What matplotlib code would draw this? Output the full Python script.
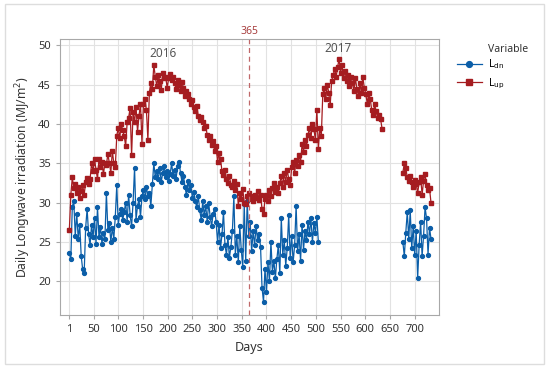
import matplotlib
matplotlib.use("Agg")
import matplotlib.pyplot as plt
import numpy as np
from matplotlib.patches import Rectangle

# daily longwave irradiation, read every 3rd day off the reference
lup_start1 = 1
lup_vals1 = [
    26.5, 31.0, 33.2, 31.8, 32.4, 31.2, 32.0, 30.6, 31.5, 32.2,
    31.0, 32.6, 33.1, 32.4, 33.0, 35.0, 34.0, 35.5, 34.2, 33.0,
    35.6, 34.5, 35.2, 33.6, 35.0, 34.8, 36.2, 35.0, 33.8, 36.6,
    35.0, 34.5, 38.5, 39.5, 38.2, 40.0, 39.2, 38.5, 37.2, 40.2,
    40.8, 42.0, 36.0, 41.5, 40.2, 42.2, 39.0, 41.0, 42.6, 37.5,
    42.5, 43.2, 41.8, 38.0, 44.0, 45.2, 44.5, 47.5, 46.0, 44.8,
    46.2, 45.5, 44.3, 46.5, 45.8, 46.0, 44.6, 45.8, 46.4, 45.6,
    46.0, 45.2, 44.5, 45.6, 45.0, 44.2, 45.3, 44.6, 43.5, 44.2,
    43.8, 43.2, 42.5, 43.0, 42.2, 41.6, 42.3, 41.0, 40.5, 40.9,
    40.2, 39.5, 39.8, 38.6, 38.0, 38.5, 37.3, 37.8, 36.6, 37.2,
    35.2, 36.3, 35.5, 34.0, 33.5, 34.2, 33.0, 32.5, 33.4, 32.2,
    32.0, 32.8, 31.6, 32.4, 29.6, 31.2, 30.4, 31.7, 30.0, 29.8,
    30.8, 31.2, 30.5, 30.9, 30.2, 31.0, 30.6, 31.5, 30.3, 31.0,
    29.2, 28.6, 30.4, 31.0, 30.2, 31.6, 30.8, 31.8, 32.5, 31.4,
    32.0, 31.2, 32.5, 33.4, 32.0, 33.8, 32.6, 34.2, 33.0, 32.2,
    34.5, 35.2, 33.8, 35.4, 34.6, 36.0, 35.2, 37.4, 36.5, 38.0,
    37.2, 38.6, 39.5, 38.2, 40.0, 39.3, 38.0, 41.8, 36.8, 39.5,
    38.5, 43.8, 44.6, 43.2, 45.0, 44.0, 42.4, 45.5, 46.2, 47.0,
    46.0, 47.2, 48.3, 46.5, 47.5, 45.8, 46.8, 45.5, 46.2, 44.8,
    46.0, 45.2, 44.2, 45.8, 44.5, 43.6, 45.2, 44.0, 46.0, 44.6,
    43.8, 42.6, 44.0, 43.2, 41.8, 41.2, 42.5, 41.6, 40.8, 41.2,
    40.6, 39.4,
]
lup_start2 = 676
lup_vals2 = [33.8, 35.0, 34.4, 33.2, 32.8, 33.4, 32.6, 32.0, 32.9, 32.4,
             31.2, 32.6, 33.2, 31.0, 32.8, 33.6, 32.2, 31.6, 31.8, 30.0]

ldn_start1 = 1
ldn_vals1 = [
    23.6, 22.8, 29.5, 30.2, 25.8, 28.6, 25.4, 27.2, 23.2, 21.5,
    21.0, 26.8, 29.2, 26.0, 24.6, 27.2, 25.6, 28.0, 24.8, 29.4,
    25.6, 26.9, 24.8, 26.2, 25.4, 31.2, 26.5, 27.4, 25.0, 26.8,
    25.4, 28.2, 32.2, 27.2, 28.6, 29.2, 27.8, 28.8, 30.0, 27.6,
    31.0, 28.4, 27.0, 30.0, 34.4, 27.8, 29.6, 30.4, 28.2, 30.8,
    31.6, 30.4, 32.0, 30.8, 31.2, 29.6, 32.4, 35.0, 33.2, 34.0,
    33.0, 34.4, 32.6, 33.8, 34.6, 33.2, 34.0, 32.8, 33.6, 35.0,
    33.4, 34.2, 33.0, 34.6, 35.2, 33.8, 32.6, 33.4, 32.0, 31.0,
    32.8, 31.6, 32.2, 30.6, 31.4, 30.2, 29.4, 30.8, 29.0, 27.8,
    30.2, 28.4, 29.6, 27.6, 30.0, 28.2, 27.0, 28.6, 29.2, 27.6,
    25.0, 27.2, 24.2, 26.0, 28.8, 24.6, 23.4, 25.6, 23.0, 24.4,
    26.4, 30.8, 23.4, 25.8, 22.4, 27.0, 24.0, 21.8, 29.8, 22.6,
    30.2, 25.8, 27.6, 23.8, 26.4, 24.6, 27.0, 25.2, 26.0, 24.4,
    19.2, 17.4, 21.6, 18.6, 22.4, 20.0, 25.0, 21.2, 22.6, 20.4,
    22.8, 24.6, 21.0, 28.0, 23.4, 25.2, 22.0, 24.2, 28.4, 23.0,
    25.8, 22.4, 24.6, 29.6, 23.8, 26.0, 22.6, 27.2, 24.0, 26.4,
    25.2, 27.6, 26.0, 28.0, 25.0, 27.4, 26.2, 28.2, 25.0,
]
ldn_start2 = 676
ldn_vals2 = [25.0, 23.2, 26.2, 28.8, 25.4, 29.0, 24.2, 27.0, 23.4, 26.4,
             20.4, 24.6, 27.6, 23.2, 25.8, 29.4, 28.0, 23.4, 26.8, 25.4]

xticks = [1, 50, 100, 150, 200, 250, 300, 350, 400, 450, 500, 550, 600, 650, 700]
yticks = [20, 25, 30, 35, 40, 45, 50]

def series(start1, vals1, start2, vals2, step=3):
    x1 = start1 + step * np.arange(len(vals1))
    x2 = start2 + step * np.arange(len(vals2))
    x = np.concatenate([x1, [np.nan], x2])
    y = np.concatenate([vals1, [np.nan], vals2])
    return x, y

plt.rcParams['font.family'] = ['Noto Sans', 'DejaVu Sans']

blue = '#0B5EA8'
red = '#A51C20'

fig = plt.figure(figsize=(5.5, 3.72), dpi=100)
ax = fig.add_axes([0.109, 0.153, 0.689, 0.742])

xd, yd = series(ldn_start1, ldn_vals1, ldn_start2, ldn_vals2)
xu, yu = series(lup_start1, lup_vals1, lup_start2, lup_vals2)
ax.plot(xd, yd, '-o', color=blue, markersize=2.8, linewidth=0.9, label=r'L$_{\mathrm{dn}}$')
ax.plot(xu, yu, '-s', color=red, markersize=2.5, linewidth=0.9, label=r'L$_{\mathrm{up}}$')

ax.axvline(365, color='#C0686A', linestyle=(0, (4, 3)), linewidth=0.9)
ax.text(365, 1.008, '365', transform=ax.get_xaxis_transform(), color='#A84040',
        fontsize=7.5, ha='center', va='bottom')
ax.text(190, 49.0, '2016', color='#555555', fontsize=8.5, ha='center', va='center')
ax.text(545, 49.6, '2017', color='#555555', fontsize=8.5, ha='center', va='center')

ax.set_xlim(-18, 749)
ax.set_ylim(15.7, 50.8)
ax.set_xticks(xticks)
ax.set_yticks(yticks)
ax.grid(True, color='#E2E2E2', linewidth=0.8)
ax.set_axisbelow(True)
for s in ax.spines.values():
    s.set_color('#A8A8A8')
ax.tick_params(labelsize=8, colors='#A8A8A8', labelcolor='#333333', length=3)
ax.set_xlabel('Days', fontsize=9, color='#333333')
ax.set_ylabel('Daily Longwave irradiation (MJ/m$^2$)', fontsize=8.8, color='#333333')

fig.text(488 / 550, 1 - 50 / 372, 'Variable', fontsize=7.5, color='#333333',
         ha='left', va='center')
fig.legend(loc='upper left', bbox_to_anchor=(0.83, 0.845), frameon=False,
           fontsize=7.5, handlelength=2.4, labelspacing=0.45, markerscale=1.5,
           borderaxespad=0, borderpad=0, handletextpad=0.6)

fig.patches.append(Rectangle((5 / 550, 8 / 372), 539 / 550, 360 / 372,
                             transform=fig.transFigure, fill=False,
                             edgecolor='#DDDDDD', linewidth=1))

fig.savefig('out.png', dpi=100)
